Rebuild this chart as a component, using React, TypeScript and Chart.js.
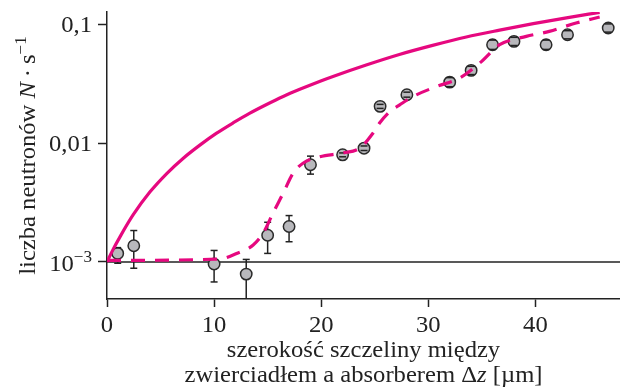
import React, { useEffect, useRef } from 'react';
import { Chart, registerables } from 'chart.js';

Chart.register(...registerables);

// ---- data ----
const measX = [1, 2.5, 10, 13, 15, 17, 19, 22, 24, 25.5, 28, 32, 34, 36, 38, 41, 43, 46.8];
const measY = [0.00118, 0.00137, 0.00096, 0.00079, 0.00168, 0.00199, 0.0066, 0.008, 0.0091, 0.0205, 0.0257, 0.0328, 0.0412, 0.0678, 0.0723, 0.0678, 0.0823, 0.0938];
const errLow = [0.000975, 0.000885, 0.000678, 0.0002, 0.00118, 0.00148, 0.0055, 0.0077, 0.0087, 0.0197, 0.0245, 0.03, 0.038, 0.0619, 0.0668, 0.0619, 0.076, 0.0866];
const errHigh = [0.00132, 0.00184, 0.00125, 0.00105, 0.00216, 0.00246, 0.0078, 0.0083, 0.0095, 0.0213, 0.027, 0.0358, 0.0446, 0.0742, 0.0783, 0.0742, 0.0891, 0.1016];

const theoryX = [0, 0.5, 1.2, 2.45, 4.0, 5.6, 7.1, 8.7, 10.2, 11.8, 13.3, 14.9, 16.45, 18, 19.9, 21.1, 24.2, 27.3, 30.4, 33.55, 36.66, 39.8, 42.9, 46.0];
const theoryY = [0.001, 0.00124, 0.00162, 0.0025, 0.00388, 0.00559, 0.00746, 0.0097, 0.01212, 0.01492, 0.01789, 0.02126, 0.02485, 0.02854, 0.03344, 0.03666, 0.04577, 0.05615, 0.06697, 0.07884, 0.09008, 0.1021, 0.11426, 0.12704];

const fitX = [0, 10.5, 12.1, 13.65, 14.58, 15.5, 16.45, 17.38, 18.3, 19.87, 22.04, 23.6, 24.84, 25.47, 26.4, 27.33, 28.57, 30.75, 32.93, 34.8, 36.66, 39.15, 41.3, 43.8, 46.0];
const fitY = [0.00103, 0.00106, 0.00118, 0.00139, 0.00175, 0.00258, 0.0038, 0.0056, 0.0068, 0.0077, 0.0083, 0.0091, 0.0122, 0.0149, 0.0185, 0.0211, 0.0248, 0.0301, 0.0355, 0.0475, 0.0678, 0.0797, 0.0879, 0.1033, 0.116];

const baselineX = [0, 48];
const baselineY = [0.001, 0.001];

const xTicks = [0, 10, 20, 30, 40];
const yTicks = [0.001, 0.01, 0.1];

const X_MIN = 0;
const X_MAX = 47.9;
const Y_MIN = 0.000487;
const Y_MAX = 0.128;

const INK = '#222222';
const MAGENTA = '#e6087f';
const FONT = '"Liberation Serif", "Times New Roman", serif';
const FS = 23;
const SUP = 16;
const STRETCH = 1.07;

function pts(xs: number[], ys: number[]) {
  return xs.map((x, i) => ({ x, y: ys[i] }));
}

type Run = { t: string; font: string; dy?: number };

function drawRuns(ctx: CanvasRenderingContext2D, runs: Run[], x: number, y: number, align: 'left' | 'center' | 'right', sx = 1) {
  let total = 0;
  const widths = runs.map((r) => {
    ctx.font = r.font;
    const w = ctx.measureText(r.t).width;
    total += w;
    return w;
  });
  ctx.save();
  ctx.translate(x, y);
  ctx.scale(sx, 1);
  let cx = align === 'left' ? 0 : align === 'center' ? -total / 2 : -total;
  ctx.textAlign = 'left';
  ctx.textBaseline = 'alphabetic';
  runs.forEach((r, i) => {
    ctx.font = r.font;
    ctx.fillText(r.t, cx, -(r.dy || 0));
    cx += widths[i];
  });
  ctx.restore();
}

const reg = (s: number) => `${s}px ${FONT}`;
const ital = (s: number) => `italic ${s}px ${FONT}`;

function clipArea(ctx: CanvasRenderingContext2D, a: any) {
  ctx.beginPath();
  ctx.rect(a.left, a.top, a.right - a.left, a.bottom - a.top);
  ctx.clip();
}

const errorBarPlugin = {
  id: 'errorBars',
  beforeDatasetsDraw(chart: any) {
    const { ctx, chartArea } = chart;
    const xs = chart.scales.x;
    const ys = chart.scales.y;
    ctx.save();
    clipArea(ctx, chartArea);
    ctx.strokeStyle = INK;
    ctx.lineWidth = 1.5;
    measX.forEach((x, i) => {
      const px = xs.getPixelForValue(x);
      ctx.beginPath();
      ctx.moveTo(px, ys.getPixelForValue(errLow[i]));
      ctx.lineTo(px, ys.getPixelForValue(errHigh[i]));
      ctx.stroke();
    });
    ctx.restore();
  },
  afterDatasetDraw(chart: any, args: any) {
    if (args.index !== 1) return;
    const { ctx, chartArea } = chart;
    const xs = chart.scales.x;
    const ys = chart.scales.y;
    ctx.save();
    clipArea(ctx, chartArea);
    ctx.strokeStyle = INK;
    ctx.lineWidth = 1.5;
    const hw = 3.5;
    measX.forEach((x, i) => {
      const px = xs.getPixelForValue(x);
      [errLow[i], errHigh[i]].forEach((v) => {
        const py = ys.getPixelForValue(v);
        if (py > chartArea.bottom) return;
        ctx.beginPath();
        ctx.moveTo(px - hw, py);
        ctx.lineTo(px + hw, py);
        ctx.stroke();
      });
    });
    ctx.restore();
  },
};

const textPlugin = {
  id: 'texts',
  afterDraw(chart: any) {
    const { ctx, chartArea } = chart;
    const xs = chart.scales.x;
    const ys = chart.scales.y;
    ctx.save();
    ctx.fillStyle = INK;

    // x tick labels
    xTicks.forEach((t) => {
      const px = xs.getPixelForValue(t);
      drawRuns(ctx, [{ t: String(t), font: reg(FS) }], px, 332, 'center', STRETCH);
    });

    // y tick labels
    const yLabelRight = 92;
    yTicks.forEach((v) => {
      const py = ys.getPixelForValue(v);
      if (v === 0.001) {
        drawRuns(ctx, [
          { t: '10', font: reg(FS) },
          { t: '\u22123', font: reg(SUP), dy: 9 },
        ], yLabelRight, py + 9, 'right', STRETCH);
      } else {
        drawRuns(ctx, [{ t: String(v).replace('.', ','), font: reg(FS) }], yLabelRight, py + 7.5, 'right', STRETCH);
      }
    });

    // x title
    const cx = (chartArea.left + chartArea.right) / 2;
    drawRuns(ctx, [{ t: 'szerokość szczeliny między', font: reg(FS) }], cx, 357, 'center', STRETCH);
    drawRuns(ctx, [
      { t: 'zwierciadłem a absorberem ', font: reg(FS) },
      { t: 'Δ', font: reg(FS) },
      { t: 'z', font: ital(FS) },
      { t: ' [µm]', font: reg(FS) },
    ], cx, 382, 'center', STRETCH);

    // y title
    ctx.save();
    ctx.translate(35, (chartArea.top + chartArea.bottom) / 2);
    ctx.rotate(-Math.PI / 2);
    drawRuns(ctx, [
      { t: 'liczba neutronów ', font: reg(FS) },
      { t: 'N', font: ital(FS) },
      { t: '\u2009·\u2009', font: reg(FS) },
      { t: 's', font: reg(FS) },
      { t: '\u22121', font: reg(SUP), dy: 9 },
    ], 0, 0, 'center', STRETCH);
    ctx.restore();

    ctx.restore();
  },
};

export default function App() {
  const ref = useRef<HTMLCanvasElement | null>(null);
  useEffect(() => {
    if (!ref.current) return;
    const chart = new Chart(ref.current, {
      type: 'scatter',
      data: {
        datasets: [
          {
            label: 'baseline',
            data: pts(baselineX, baselineY),
            showLine: true,
            borderColor: INK,
            borderWidth: 1.5,
            pointRadius: 0,
            order: 5,
          },
          {
            label: 'pomiar',
            data: pts(measX, measY),
            showLine: false,
            pointRadius: 5.7,
            pointBackgroundColor: '#b8b8bc',
            pointBorderColor: '#2a2a2a',
            pointBorderWidth: 1.5,
            order: 3,
          },
          {
            label: 'dopasowanie',
            data: pts(fitX, fitY),
            showLine: true,
            borderColor: MAGENTA,
            borderWidth: 3.2,
            borderDash: [14, 10],
            pointRadius: 0,
            cubicInterpolationMode: 'monotone',
            order: 2,
          },
          {
            label: 'teoria',
            data: pts(theoryX, theoryY),
            showLine: true,
            borderColor: MAGENTA,
            borderWidth: 3.2,
            pointRadius: 0,
            cubicInterpolationMode: 'monotone',
            order: 1,
          },
        ],
      },
      options: {
        animation: false,
        responsive: false,
        devicePixelRatio: 1,
        layout: { autoPadding: false, padding: { top: 12, right: 0, left: 0, bottom: 0 } },
        plugins: { legend: { display: false }, tooltip: { enabled: false } },
        scales: {
          x: {
            type: 'linear',
            min: X_MIN,
            max: X_MAX,
            afterBuildTicks: (s: any) => { s.ticks = xTicks.map((v) => ({ value: v })); },
            afterFit: (s: any) => { s.height = 91; },
            ticks: { display: false },
            grid: { drawOnChartArea: false, drawTicks: true, tickLength: 8, tickColor: INK, tickWidth: 1.5, color: INK },
            border: { display: true, color: INK, width: 1.5 },
          },
          y: {
            type: 'logarithmic',
            min: Y_MIN,
            max: Y_MAX,
            afterBuildTicks: (s: any) => { s.ticks = yTicks.map((v) => ({ value: v })); },
            afterFit: (s: any) => { s.width = 107; },
            ticks: { display: false },
            grid: { drawOnChartArea: false, drawTicks: true, tickLength: 9, tickColor: INK, tickWidth: 1.5, color: INK },
            border: { display: true, color: INK, width: 1.5 },
          },
        },
      },
      plugins: [errorBarPlugin, textPlugin],
    } as any);
    return () => chart.destroy();
  }, []);
  return (
    <div style={{ position: 'absolute', left: 0, top: 0, width: 620, height: 390, background: '#fff' }}>
      <canvas ref={ref} width={620} height={390} style={{ width: 620, height: 390, display: 'block' }} />
    </div>
  );
}
